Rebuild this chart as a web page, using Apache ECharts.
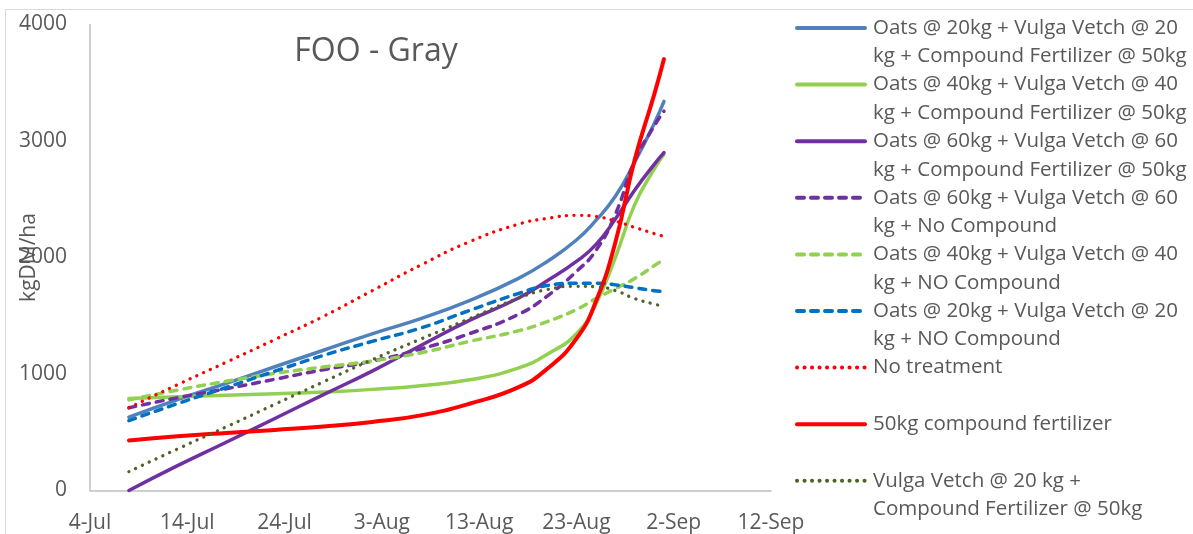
<!DOCTYPE html>
<html>
<head>
<meta charset="utf-8">
<script src="https://cdn.jsdelivr.net/npm/echarts@6/dist/echarts.min.js"></script>
<style>
  html, body { margin: 0; padding: 0; background: #ffffff; }
  #chart { width: 1193px; height: 534px; }
</style>
</head>
<body>
<div id="chart"></div>
<script>
// Sampling dates (month-day) for the feed-on-offer curves
const sampleDates = ['07-08', '07-13', '07-18', '07-23', '07-28', '08-02', '08-07', '08-12',
                     '08-17', '08-20', '08-23', '08-25', '08-27', '08-29', '08-31', '09-01'];

// Date axis tick labels, one every 10 days starting 4 July
const xTickLabels = ['4-Jul', '14-Jul', '24-Jul', '3-Aug', '13-Aug', '23-Aug', '2-Sep', '12-Sep'];

// Treatment names and their wrapped legend lines
const seriesNames = [
  'Oats @ 20kg + Vulga Vetch @ 20 kg + Compound Fertilizer @ 50kg',
  'Oats @ 40kg + Vulga Vetch @ 40 kg + Compound Fertilizer @ 50kg',
  'Oats @ 60kg + Vulga Vetch @ 60 kg + Compound Fertilizer @ 50kg',
  'Oats @ 60kg + Vulga Vetch @ 60 kg + No Compound',
  'Oats @ 40kg + Vulga Vetch @ 40 kg + NO Compound',
  'Oats @ 20kg + Vulga Vetch @ 20 kg + NO Compound',
  'No treatment',
  '50kg compound fertilizer',
  'Vulga Vetch @ 20 kg + Compound Fertilizer @ 50kg'
];
const legendLines = [
  ['Oats @ 20kg + Vulga Vetch @ 20', 'kg + Compound Fertilizer @ 50kg'],
  ['Oats @ 40kg + Vulga Vetch @ 40', 'kg + Compound Fertilizer @ 50kg'],
  ['Oats @ 60kg + Vulga Vetch @ 60', 'kg + Compound Fertilizer @ 50kg'],
  ['Oats @ 60kg + Vulga Vetch @ 60', 'kg + No Compound'],
  ['Oats @ 40kg + Vulga Vetch @ 40', 'kg + NO Compound'],
  ['Oats @ 20kg + Vulga Vetch @ 20', 'kg + NO Compound'],
  ['No treatment'],
  ['50kg compound fertilizer'],
  ['Vulga Vetch @ 20 kg +', 'Compound Fertilizer @ 50kg']
];

// Feed on offer, kgDM/ha, at each sampling date
const oats20Compound   = [630, 780, 920, 1062, 1204, 1345, 1475, 1630, 1819, 1966, 2150, 2318, 2525, 2820, 3150, 3340];
const oats40Compound   = [790, 805, 818, 830, 845, 868, 900, 950, 1050, 1170, 1346, 1600, 2000, 2456, 2760, 2886];
const oats60Compound   = [0, 213, 414, 618, 823, 1025, 1245, 1460, 1650, 1800, 1966, 2110, 2330, 2580, 2800, 2900];
const oats60NoCompound = [710, 796, 873, 955, 1037, 1110, 1215, 1346, 1510, 1669, 1880, 2060, 2370, 2830, 3130, 3256];
const oats40NoCompound = [778, 862, 937, 1005, 1060, 1112, 1182, 1280, 1370, 1450, 1553, 1647, 1733, 1820, 1930, 1983];
const oats20NoCompound = [600, 746, 884, 1024, 1160, 1280, 1395, 1545, 1690, 1759, 1780, 1780, 1765, 1740, 1715, 1708];
const noTreatment      = [710, 909, 1101, 1296, 1495, 1715, 1935, 2135, 2285, 2335, 2362, 2352, 2312, 2258, 2205, 2181];
const compoundOnly     = [430, 465, 494, 520, 549, 588, 645, 745, 885, 1045, 1303, 1622, 2129, 2843, 3400, 3703];
const vetch20Compound  = [162, 357, 546, 740, 933, 1123, 1300, 1475, 1650, 1725, 1753, 1750, 1716, 1647, 1600, 1580];

const seriesValues = [oats20Compound, oats40Compound, oats60Compound, oats60NoCompound,
                      oats40NoCompound, oats20NoCompound, noTreatment, compoundOnly, vetch20Compound];

// Line looks: colour, dash style, width
const DASH = [7, 7];
const DOT = [0.1, 7.4];
const lineLooks = [
  { color: '#4F81BD', type: 'solid', width: 3.5 },
  { color: '#92D050', type: 'solid', width: 3.5 },
  { color: '#7030A0', type: 'solid', width: 3.5 },
  { color: '#7030A0', type: DASH, width: 3.5 },
  { color: '#92D050', type: DASH, width: 3.5 },
  { color: '#0070C0', type: DASH, width: 3.5 },
  { color: '#FF0000', type: DOT, width: 3.3 },
  { color: '#FF0000', type: 'solid', width: 4 },
  { color: '#4F6228', type: DOT, width: 3.3 }
];

// Day offset from 4 July (the first axis tick)
function dayOffset(md) {
  const [m, d] = md.split('-').map(Number);
  return Math.round((Date.UTC(2000, m - 1, d) - Date.UTC(2000, 6, 4)) / 86400000);
}
const xDays = sampleDates.map(dayOffset);

const FONT = 'Open Sans';
const TEXT = '#595959';
const AXIS = '#BFBFBF';

const chart = echarts.init(document.getElementById('chart'), null, { renderer: 'canvas' });

chart.setOption({
  animation: false,
  backgroundColor: '#ffffff',
  textStyle: { fontFamily: FONT },
  graphic: [{
    type: 'rect',
    silent: true,
    shape: { x: 5.5, y: 9.5, width: 1400, height: 700 },
    style: { fill: null, stroke: '#D9D9D9', lineWidth: 1 }
  }],
  title: {
    text: 'FOO - Gray',
    left: 376,
    top: 36,
    textAlign: 'center',
    padding: 0,
    textStyle: { fontFamily: FONT, fontSize: 32, fontWeight: 'normal', color: TEXT }
  },
  grid: {
    left: 90, right: 422, top: 24.5, bottom: 43.5,
    containLabel: false,
    outerBoundsMode: 'none'
  },
  xAxis: {
    type: 'value',
    min: 0,
    max: 70,
    interval: 10,
    axisLine: { show: true, lineStyle: { color: AXIS, width: 1.5 } },
    axisTick: { show: false },
    splitLine: { show: false },
    axisLabel: {
      margin: 22,
      fontFamily: FONT, fontSize: 21, color: TEXT,
      showMinLabel: true, showMaxLabel: true,
      formatter: v => xTickLabels[Math.round(v / 10)] || ''
    }
  },
  yAxis: {
    type: 'value',
    min: 0,
    max: 4000,
    interval: 1000,
    name: 'kgDM/ha',
    nameLocation: 'middle',
    nameGap: 50,
    nameMoveOverlap: false,
    nameTextStyle: { fontFamily: FONT, fontSize: 21, color: TEXT },
    axisLine: { show: true, lineStyle: { color: AXIS, width: 1.5 } },
    axisTick: { show: false },
    splitLine: { show: false },
    axisLabel: {
      margin: 23, fontFamily: FONT, fontSize: 21, color: TEXT,
      formatter: v => String(v)
    }
  },
  legend: {
    orient: 'vertical',
    left: 795,
    top: -14.75,
    padding: 0,
    itemWidth: 68,
    itemHeight: 14,
    itemGap: -28.9,
    selectedMode: false,
    data: seriesNames,
    itemStyle: { opacity: 0 },
    lineStyle: { width: 4 },
    textStyle: { fontFamily: FONT, fontSize: 20.5, color: TEXT, lineHeight: 28.5, padding: [0, 0, 0, 3] },
    formatter: name => {
      const lines = legendLines[seriesNames.indexOf(name)];
      return '\n' + lines.join('\n') + (lines.length === 1 ? '\n' : '');
    }
  },
  series: seriesNames.map((name, i) => ({
    name: name,
    type: 'line',
    smooth: 0.5,
    symbol: 'none',
    showSymbol: false,
    clip: false,
    lineStyle: {
      color: lineLooks[i].color,
      width: lineLooks[i].width,
      type: lineLooks[i].type,
      cap: 'round',
      join: 'round'
    },
    itemStyle: { color: lineLooks[i].color },
    data: xDays.map((d, k) => [d, seriesValues[i][k]])
  }))
});
</script>
</body>
</html>
